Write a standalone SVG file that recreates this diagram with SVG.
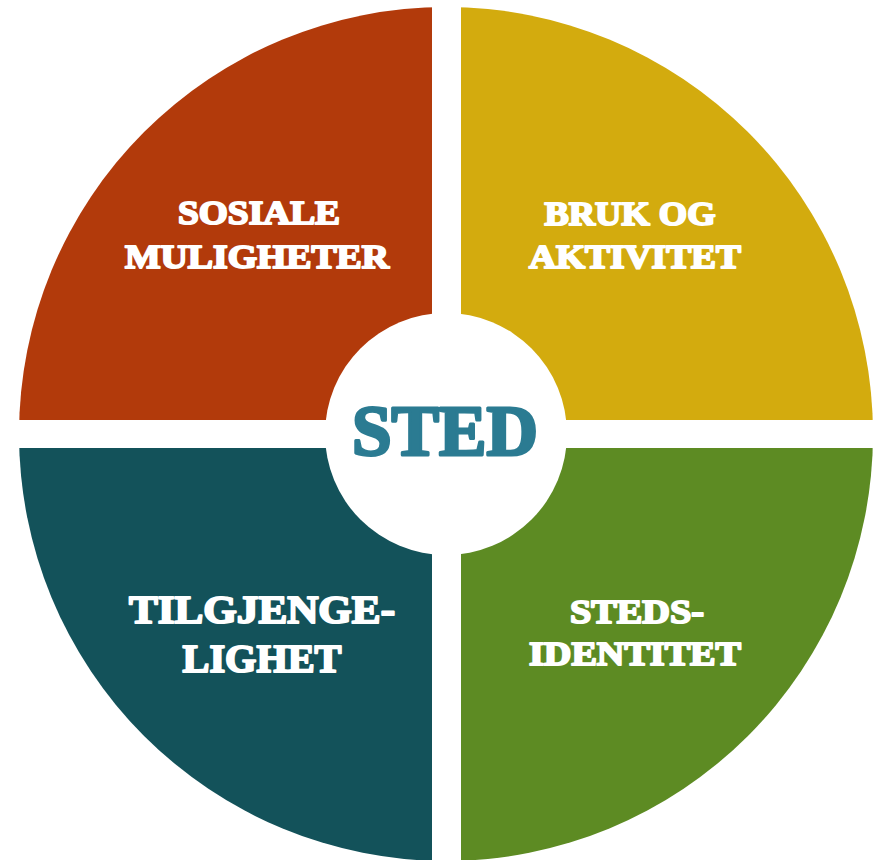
<svg xmlns="http://www.w3.org/2000/svg" width="874" height="860" viewBox="0 0 874 860">
  <style>
    .lbl { font-family: "Liberation Serif", "DejaVu Serif", serif; font-weight: bold; fill: #FFFFFF; stroke: #FFFFFF; stroke-width: 2; stroke-linejoin: round; text-anchor: middle; }
    .center { font-family: "Liberation Serif", "DejaVu Serif", serif; font-weight: bold; fill: #2B7B92; stroke: #2B7B92; stroke-width: 3; stroke-linejoin: round; text-anchor: middle; }
  </style>
  <defs>
    <clipPath id="disc">
      <circle cx="446" cy="434" r="427"/>
    </clipPath>
  </defs>
  <rect x="0" y="0" width="874" height="860" fill="#FFFFFF"/>
  <g id="quadrant-sosiale" clip-path="url(#disc)">
    <rect x="0" y="0" width="432" height="420" fill="#B23A0B"/>
    <text class="lbl" font-size="34" x="259" y="224" textLength="162" lengthAdjust="spacingAndGlyphs">SOSIALE</text>
    <text class="lbl" font-size="34" x="257" y="268" textLength="264" lengthAdjust="spacingAndGlyphs">MULIGHETER</text>
  </g>
  <g id="quadrant-bruk" clip-path="url(#disc)">
    <rect x="461" y="0" width="413" height="420" fill="#D3AB0E"/>
    <text class="lbl" font-size="34" x="630" y="225" textLength="171" lengthAdjust="spacingAndGlyphs">BRUK OG</text>
    <text class="lbl" font-size="34" x="635" y="268" textLength="212" lengthAdjust="spacingAndGlyphs">AKTIVITET</text>
  </g>
  <g id="quadrant-tilgjengelighet" clip-path="url(#disc)">
    <rect x="0" y="448" width="432" height="412" fill="#13525A"/>
    <text class="lbl" font-size="39" x="262" y="623" textLength="266" lengthAdjust="spacingAndGlyphs">TILGJENGE-</text>
    <text class="lbl" font-size="39" x="262" y="672" textLength="159" lengthAdjust="spacingAndGlyphs">LIGHET</text>
  </g>
  <g id="quadrant-stedsidentitet" clip-path="url(#disc)">
    <rect x="461" y="448" width="413" height="412" fill="#5D8B23"/>
    <text class="lbl" font-size="34" x="637" y="623" textLength="134" lengthAdjust="spacingAndGlyphs">STEDS-</text>
    <text class="lbl" font-size="34" x="635" y="665" textLength="212" lengthAdjust="spacingAndGlyphs">IDENTITET</text>
  </g>
  <g id="center-sted">
    <circle cx="446" cy="434" r="121" fill="#FFFFFF"/>
    <text class="center" font-size="71" x="445" y="455" textLength="186" lengthAdjust="spacingAndGlyphs">STED</text>
  </g>
  <g id="connectors"/>
</svg>
